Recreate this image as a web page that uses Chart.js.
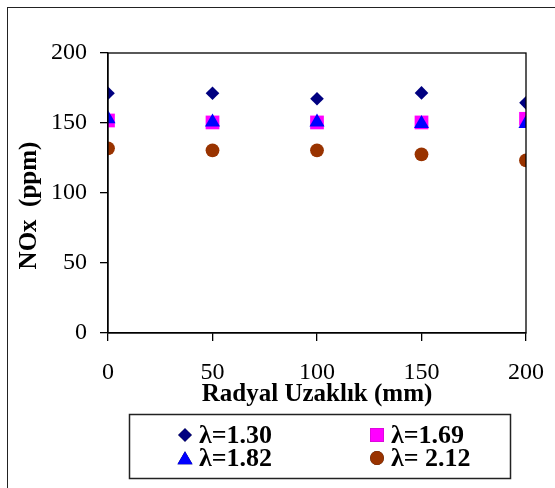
<!DOCTYPE html>
<html>
<head>
<meta charset="utf-8">
<script src="https://cdn.jsdelivr.net/npm/chart.js@4/dist/chart.umd.min.js"></script>
<style>
  html, body { margin: 0; padding: 0; background: #fff; overflow: hidden; }
  #wrap { position: relative; width: 555px; height: 488px; }
  #frame { position: absolute; left: 7px; top: 7px; width: 600px; height: 600px; border: 1.5px solid #222; box-sizing: border-box; }
  canvas { position: absolute; left: 0; top: 0; }
</style>
</head>
<body>
<div id="wrap">
  <div id="frame"></div>
  <canvas id="noxChart" width="555" height="488"></canvas>
</div>
<script>
// Radial distance (mm) and NOx readings (ppm) per excess-air ratio
const distances = [0, 50, 100, 150, 200];
const seriesLabels = ["λ=1.30", "λ=1.69", "λ=1.82", "λ= 2.12"];
const nox130 = [171.3, 171.3, 167.3, 171.5, 164.4];
const nox169 = [151.8, 150.4, 150.4, 150.4, 153.0];
const nox182 = [153.0, 150.6, 150.6, 149.5, 149.5];
const nox212 = [131.9, 130.5, 130.5, 127.6, 123.3];
const yTicks = [0, 50, 100, 150, 200];
const xTicks = [0, 50, 100, 150, 200];

const FONT = "'Liberation Serif', 'Times New Roman', serif";
Chart.defaults.font.family = FONT;
Chart.defaults.color = "#000";

const toPoints = vals => vals.map((v, i) => ({ x: distances[i], y: v }));

// Frame around the plot area plus the boxed legend under the axis title
const framePlugin = {
  id: "framePlugin",
  afterDraw(chart) {
    const { ctx, chartArea: a } = chart;
    ctx.save();
    ctx.strokeStyle = "#000";
    ctx.lineWidth = 1.3;
    ctx.strokeRect(a.left, a.top, a.right - a.left, a.bottom - a.top);

    // legend box
    ctx.strokeStyle = "#222";
    ctx.lineWidth = 1.5;
    ctx.strokeRect(129.5, 414.5, 381, 64);

    const cols = [185, 377];
    const rows = [435, 458];
    ctx.font = "bold 26px " + FONT;
    ctx.textBaseline = "middle";
    ctx.textAlign = "left";
    chart.data.datasets.forEach((ds, i) => {
      const cx = cols[i % 2];
      const cy = rows[Math.floor(i / 2)];
      Chart.helpers.drawPoint(ctx, {
        pointStyle: ds.pointStyle,
        radius: ds.pointRadius,
        rotation: 0,
        borderWidth: 0
      }, cx, ds.pointStyle === "triangle" ? cy + 2 : cy);
      ctx.fillStyle = ds.backgroundColor;
      ctx.fill();
      ctx.fillStyle = "#000";
      ctx.fillText(ds.label, cx + 14, cy + 1);
    });
    ctx.restore();
  }
};

new Chart(document.getElementById("noxChart"), {
  type: "scatter",
  data: {
    datasets: [
      { label: seriesLabels[0], data: toPoints(nox130), pointStyle: "rectRot", pointRadius: 6.8, backgroundColor: "#000080", borderWidth: 0, order: 3 },
      { label: seriesLabels[1], data: toPoints(nox169), pointStyle: "rect", pointRadius: 9.7, backgroundColor: "#ff00ff", borderWidth: 0, order: 2 },
      { label: seriesLabels[2], data: toPoints(nox182), pointStyle: "triangle", pointRadius: 8.7, backgroundColor: "#0000ff", borderWidth: 0, order: 1 },
      { label: seriesLabels[3], data: toPoints(nox212), pointStyle: "circle", pointRadius: 6.9, backgroundColor: "#993300", borderWidth: 0, order: 4 }
    ]
  },
  options: {
    responsive: false,
    animation: false,
    layout: { padding: { left: 12, top: 53, right: 29, bottom: 78 } },
    plugins: {
      legend: { display: false },
      tooltip: { enabled: false }
    },
    scales: {
      x: {
        type: "linear",
        min: 0,
        max: 200,
        afterBuildTicks: scale => { scale.ticks = xTicks.map(v => ({ value: v })); },
        afterFit: scale => {
          scale.height = 77;
          // tick padding would otherwise widen the side margins
          scale.paddingLeft = 0;
          scale.paddingRight = 0;
        },
        ticks: { font: { size: 24 }, padding: 17, maxRotation: 0 },
        grid: { drawOnChartArea: false, drawTicks: true, tickLength: 8, color: "#000", lineWidth: 1.3 },
        border: { color: "#000", width: 1.3 },
        title: { display: true, text: "Radyal Uzaklık (mm)", font: { size: 25, weight: "bold" }, padding: { top: 0, bottom: 0 } }
      },
      y: {
        min: 0,
        max: 200,
        afterBuildTicks: scale => { scale.ticks = yTicks.map(v => ({ value: v })); },
        afterFit: scale => { scale.width = 96; },
        ticks: { font: { size: 24 }, padding: 13 },
        grid: { drawOnChartArea: false, drawTicks: true, tickLength: 8, color: "#000", lineWidth: 1.3 },
        border: { color: "#000", width: 1.3 },
        // trailing spaces nudge the rotated title down along the axis
        title: { display: true, text: "NOx  (ppm)    ", font: { size: 25, weight: "bold" }, padding: { top: 3, bottom: 0 } }
      }
    }
  },
  plugins: [framePlugin]
});
</script>
</body>
</html>
